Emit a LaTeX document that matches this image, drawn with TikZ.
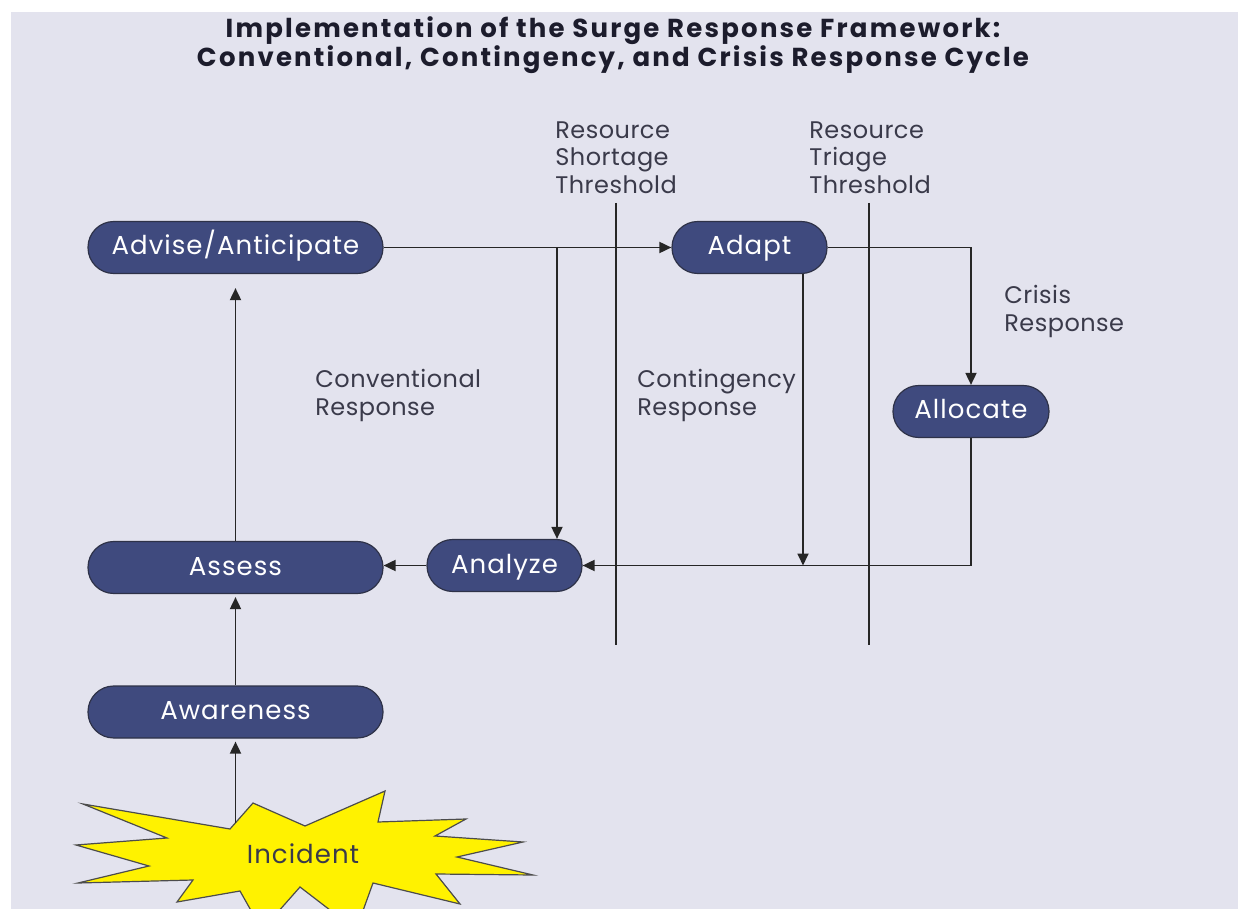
\documentclass[tikz,border=0pt]{standalone}
\usepackage{fontspec}
\setmainfont{Poppins}
\usetikzlibrary{arrows.meta}

\definecolor{pagebg}{HTML}{E3E3EE}
\definecolor{stagefill}{HTML}{3F4A7E}
\definecolor{stageline}{HTML}{2E3248}
\definecolor{notetext}{HTML}{3A3A4A}
\definecolor{titletext}{HTML}{1C1C2C}
\definecolor{burstfill}{HTML}{FFF200}

\begin{document}
\begin{tikzpicture}[x=0.5pt, y=-0.5pt, >={Triangle[length=6pt,width=5.5pt]},
    stage/.style={draw=stageline, line width=0.6pt, fill=stagefill, text=white,
      rounded corners=12.9pt, minimum height=26pt, inner sep=0pt,
      text height=10pt, text depth=2.5pt,
      font=\fontsize{13}{15}\selectfont\addfontfeature{LetterSpace=4}},
    note/.style={text=notetext, align=left, anchor=north west, inner sep=0pt,
      font=\fontsize{12}{13.75}\selectfont\addfontfeature{LetterSpace=2}},
    flow/.style={->, line width=0.9pt, draw=black!85},
    rule/.style={line width=0.9pt, draw=black!85}]

    % Page with grey panel
    \useasboundingbox (0,0) rectangle (1238,909);
    \fill[white] (0,0) rectangle (1238,909);
    \fill[pagebg] (11,12) rectangle (1238,909);

    % Title
    \node[font=\bfseries\fontsize{13}{14.5}\selectfont\addfontfeature{LetterSpace=8.5},
          text=titletext, align=center] (title)
        at (613,45) {Implementation of the Surge Response Framework:\\
                     Conventional, Contingency, and Crisis Response Cycle};

    % Threshold lines
    \coordinate (shortage top) at (616,203);
    \coordinate (shortage bottom) at (616,645);
    \coordinate (triage top) at (869,203);
    \coordinate (triage bottom) at (869,645);
    \draw[rule] (shortage top) -- (shortage bottom);
    \draw[rule] (triage top) -- (triage bottom);

    % Threshold and response labels
    \node[note] (shortage) at (555,121) {Resource\\Shortage\\Threshold};
    \node[note] (triage) at (809,121) {Resource\\Triage\\Threshold};
    \node[note] (crisis) at (1004,285) {Crisis\\Response};
    \node[note] (conventional) at (315,369) {Conventional\\Response};
    \node[note] (contingency) at (637,369) {Contingency\\Response};

    % Incident burst (cut off by the page bottom)
    \begin{scope}
        \clip (0,0) rectangle (1238,909);
        \filldraw[fill=burstfill, draw=black!70, line width=0.6pt]
            (83,804) -- (230,829) -- (253,803) -- (305,826) -- (385,791)
            -- (378,822) -- (466,819) -- (435,836) -- (523,842) -- (457,857)
            -- (533,875) -- (436,874) -- (460,904) -- (373,883) -- (356,930)
            -- (300,887) -- (262,930) -- (240,891) -- (177,902) -- (193,880)
            -- (78,883) -- (149,866) -- (76,845) -- (167,838) -- cycle;
    \end{scope}
    \node[text=notetext, font=\fontsize{13}{15}\selectfont\addfontfeature{LetterSpace=4}]
        (incident) at (303,854) {Incident};
    \coordinate (burst top) at (235.5,823);

    % Stages
    \node[stage, minimum width=147.5pt] (advise) at (235.5,247.5) {Advise/Anticipate};
    \node[stage, minimum width=77.5pt] (adapt) at (749.5,247.5) {Adapt};
    \node[stage, minimum width=78pt] (allocate) at (971,411.5) {Allocate};
    \node[stage, minimum width=77.5pt] (analyze) at (504.5,565.5) {Analyze};
    \node[stage, minimum width=147.5pt] (assess) at (235.5,567.5) {Assess};
    \node[stage, minimum width=147.5pt] (awareness) at (235.5,712) {Awareness};

    % Branch points
    \coordinate (split) at (557,247.5);
    \coordinate (drop) at (803,247.5);

    % Flow
    \draw[flow] (advise.east) -- (adapt.west);
    \draw[flow] (split) -- (split |- analyze.north);
    \draw[flow] (adapt.south -| drop) -- (drop |- analyze.east);
    \draw[flow] (adapt.east) -| (allocate.north);
    \draw[flow] (allocate.south) |- (analyze.east);
    \draw[flow] (analyze.west) -- (analyze.west -| assess.east);
    \draw[flow, shorten >=7pt] (assess.north) -- (advise.south);
    \draw[flow, shorten >=1.5pt] (awareness.north) -- (assess.south);
    \draw[flow, shorten >=1.5pt] (burst top) -- (awareness.south);

\end{tikzpicture}
\end{document}
